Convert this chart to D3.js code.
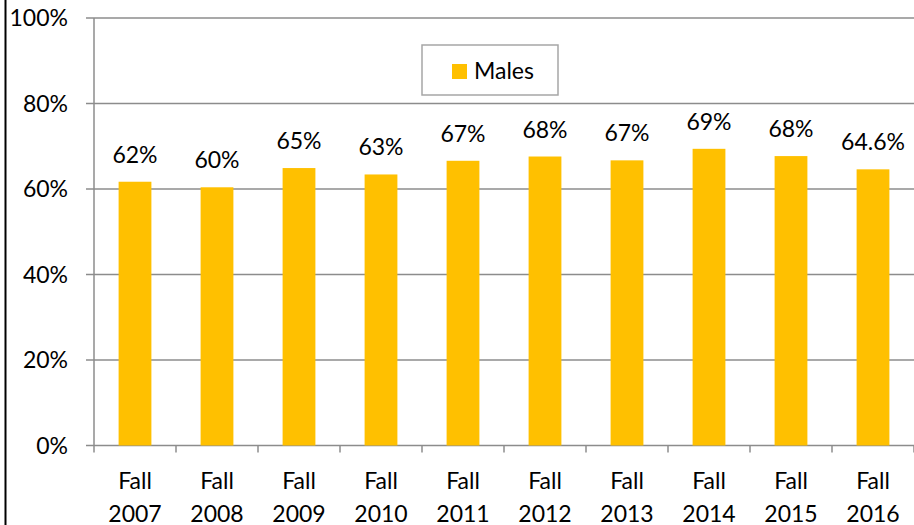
<!DOCTYPE html>
<html lang="en">
<head>
  <meta charset="UTF-8">
  <title>Males by Fall term</title>
  <script src="https://d3js.org/d3.v7.min.js"></script>
  <style>
    body { margin: 0; background: #fff; }
    text { font-family: Lato, "Open Sans", sans-serif; fill: #000; font-size: 23px; }
    .grid line { stroke: #8c8c8c; stroke-width: 1.5px; }
  </style>
</head>
<body>
  <svg id="chart" width="914" height="525"></svg>

  <script>
    const categories = ["2007", "2008", "2009", "2010", "2011", "2012", "2013", "2014", "2015", "2016"];
    const values = [61.7, 60.4, 64.9, 63.4, 66.6, 67.6, 66.7, 69.4, 67.7, 64.6];
    const valueLabels = ["62%", "60%", "65%", "63%", "67%", "68%", "67%", "69%", "68%", "64.6%"];
    const yTicks = [0, 20, 40, 60, 80, 100];
    const seriesName = "Males";

    const svg = d3.select("#chart"),
          margin = { top: 18, right: 0, bottom: 79.5, left: 94 },
          width = +svg.attr("width"),
          height = +svg.attr("height"),
          barColor = "#ffc000",
          axisColor = "#8c8c8c";

    // left frame edge
    svg.append("line")
      .attr("x1", 5.5).attr("x2", 5.5)
      .attr("y1", 0).attr("y2", height)
      .attr("stroke", "#000").attr("stroke-width", 2);

    const x = d3.scaleBand()
      .domain(categories)
      .range([margin.left, width - margin.right])
      .paddingInner(0.6)
      .paddingOuter(0.3);

    const y = d3.scaleLinear()
      .domain([0, 100])
      .range([height - margin.bottom, margin.top]);

    // gridlines
    const grid = svg.append("g").attr("class", "grid");
    grid.selectAll("line")
      .data(yTicks)
      .enter()
      .append("line")
      .attr("x1", margin.left - 8)
      .attr("x2", width)
      .attr("y1", d => y(d))
      .attr("y2", d => y(d));

    // y tick labels
    svg.selectAll(".ytick")
      .data(yTicks)
      .enter()
      .append("text")
      .attr("x", 68)
      .attr("y", d => y(d))
      .attr("dy", "0.36em")
      .attr("text-anchor", "end")
      .text(d => d + "%");

    // y axis line
    svg.append("line")
      .attr("x1", margin.left).attr("x2", margin.left)
      .attr("y1", y(100)).attr("y2", y(0) + 7)
      .attr("stroke", axisColor).attr("stroke-width", 1.5);

    // x ticks at category boundaries
    const gap = x.step() - x.bandwidth();
    svg.selectAll(".xtick")
      .data(categories)
      .enter()
      .append("line")
      .attr("x1", d => x(d) + x.bandwidth() + gap / 2)
      .attr("x2", d => x(d) + x.bandwidth() + gap / 2)
      .attr("y1", y(0))
      .attr("y2", y(0) + 7)
      .attr("stroke", axisColor)
      .attr("stroke-width", 1.5);

    // bars
    svg.selectAll(".bar")
      .data(values)
      .enter()
      .append("rect")
      .attr("x", (_, i) => x(categories[i]))
      .attr("y", d => y(d))
      .attr("width", x.bandwidth())
      .attr("height", d => y(0) - y(d))
      .attr("fill", barColor);

    // value labels
    svg.selectAll(".vlabel")
      .data(values)
      .enter()
      .append("text")
      .attr("x", (_, i) => x(categories[i]) + x.bandwidth() / 2)
      .attr("y", d => y(d) - 19)
      .attr("text-anchor", "middle")
      .text((_, i) => valueLabels[i]);

    // category labels
    const xl = svg.selectAll(".xlabel")
      .data(categories)
      .enter()
      .append("text")
      .attr("text-anchor", "middle");
    xl.append("tspan").attr("x", d => x(d) + x.bandwidth() / 2).attr("y", 489).text("Fall");
    xl.append("tspan").attr("x", d => x(d) + x.bandwidth() / 2).attr("y", 522).text(d => d);

    // legend
    const legend = svg.append("g").attr("transform", "translate(422,45)");
    legend.append("rect")
      .attr("width", 136).attr("height", 50)
      .attr("fill", "#fff")
      .attr("stroke", "#a6a6a6").attr("stroke-width", 1.5);
    legend.append("rect")
      .attr("x", 30).attr("y", 19)
      .attr("width", 15).attr("height", 15)
      .attr("fill", barColor);
    legend.append("text")
      .attr("x", 52).attr("y", 34)
      .text(seriesName);
  </script>
</body>
</html>
